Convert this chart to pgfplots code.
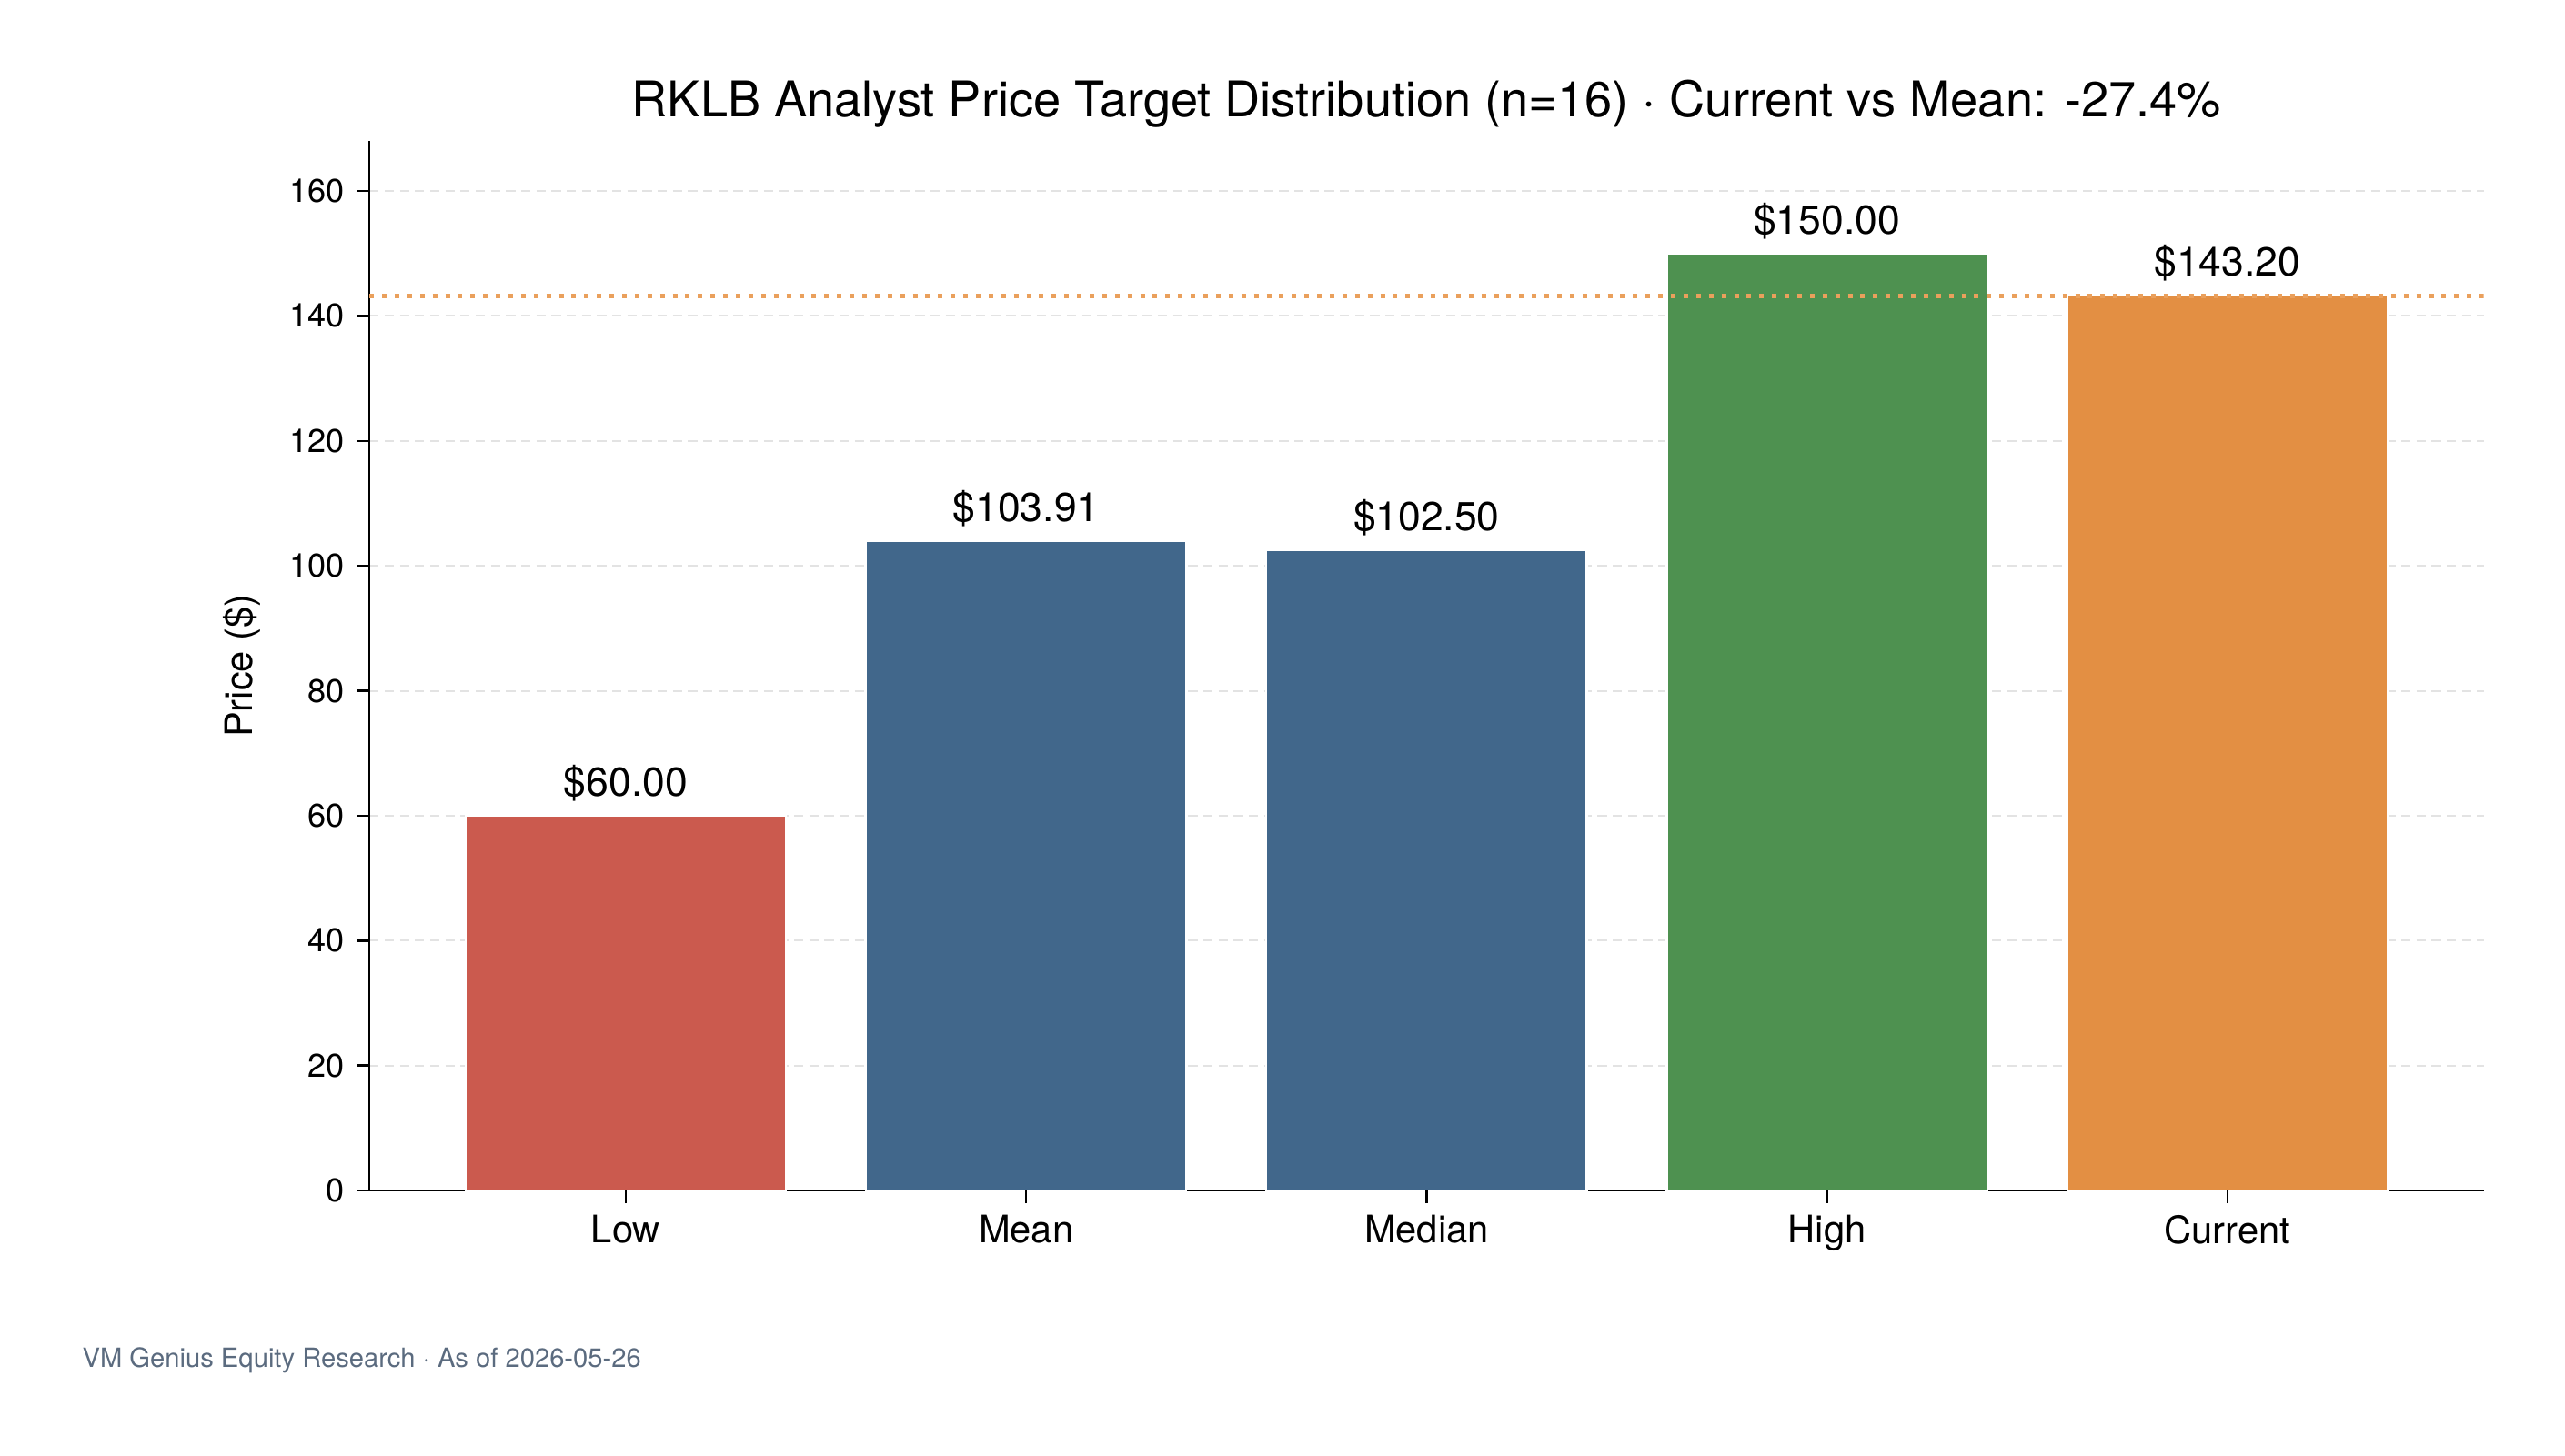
\documentclass[border=0pt]{standalone}
\usepackage{pgfplots}
\pgfplotsset{compat=1.18}
\usepackage{fontspec}
\setmainfont{TeX Gyre Heros}
\definecolor{cred}{HTML}{CB5A4E}
\definecolor{cblue}{HTML}{41678B}
\definecolor{cgreen}{HTML}{4E9150}
\definecolor{corange}{HTML}{E38F43}
\definecolor{cline}{HTML}{EAA05C}
\definecolor{gridc}{HTML}{E3E3E3}
\definecolor{footc}{HTML}{5B6B7F}
\begin{document}
\begin{tikzpicture}
\path[use as bounding box] (0,0) rectangle (1015pt,576pt);
\begin{axis}[
  at={(146.2pt,104.8pt)}, anchor=south west,
  width=836.6pt, height=415.4pt, scale only axis,
  xmin=-0.64, xmax=4.64, ymin=0, ymax=168,
  axis x line*=bottom, axis y line*=left,
  axis line style={line width=0.9pt, black},
  xtick={0,1,2,3,4}, xticklabels={Low,Mean,Median,High,Current},
  ytick={0,20,40,60,80,100,120,140,160},
  tick align=outside,
  major tick length=5pt,
  major tick style={draw=black, line width=0.9pt},
  ymajorgrids,
  major grid style={dash pattern=on 3.7pt off 2.3pt, draw=gridc, line width=0.7pt},
  /pgf/number format/assume math mode=true,
  yticklabel style={font=\fontsize{13}{15}\selectfont, xshift=-1.5pt},
  xticklabel style={font=\fontsize{15}{17}\selectfont, yshift=-1.3pt},
  every node near coord/.append style={font=\fontsize{16}{18}\selectfont, black, yshift=2pt},
  mybar/.style={ybar, bar width=0.8, bar shift=0pt, draw=white, line width=0.8pt,
     nodes near coords, point meta=explicit symbolic},
]
\addplot[mybar, fill=cred] coordinates {(0,60.00) [\$60.00]};
\addplot[mybar, fill=cblue] coordinates {(1,103.91) [\$103.91] (2,102.50) [\$102.50]};
\addplot[mybar, fill=cgreen] coordinates {(3,150.00) [\$150.00]};
\addplot[mybar, fill=corange] coordinates {(4,143.20) [\$143.20]};
\addplot[sharp plot, cline, line width=1.8pt, dash pattern=on 1.8pt off 3.2pt, mark=none] coordinates {(-0.64,143.2) (4.64,143.2)};
\end{axis}
% axis tick marks (decoration)
\foreach \yv in {0,20,40,60,80,100,120,140,160}
  \draw[black, line width=0.9pt] ({146.2pt},{(104.8+\yv*2.472619)*1pt}) -- ++(-5pt,0pt);
\foreach \xv in {0,1,2,3,4}
  \draw[black, line width=0.9pt] ({(146.2+(\xv+0.64)*158.447)*1pt},{104.8pt}) -- ++(0pt,-5pt);
\node[anchor=base, font=\fontsize{19.5}{22}\selectfont] at (564.5pt,529.6pt) {RKLB Analyst Price Target Distribution (n=16) · Current vs Mean: -27.4\%};
\node[rotate=90, font=\fontsize{15}{17}\selectfont] at (95.8pt,312.5pt) {Price (\$)};
\node[anchor=base west, inner sep=0pt, font=\fontsize{10.5}{13}\selectfont, text=footc] at (32.4pt,35pt) {VM Genius Equity Research · As of 2026-05-26};
\end{tikzpicture}
\end{document}
